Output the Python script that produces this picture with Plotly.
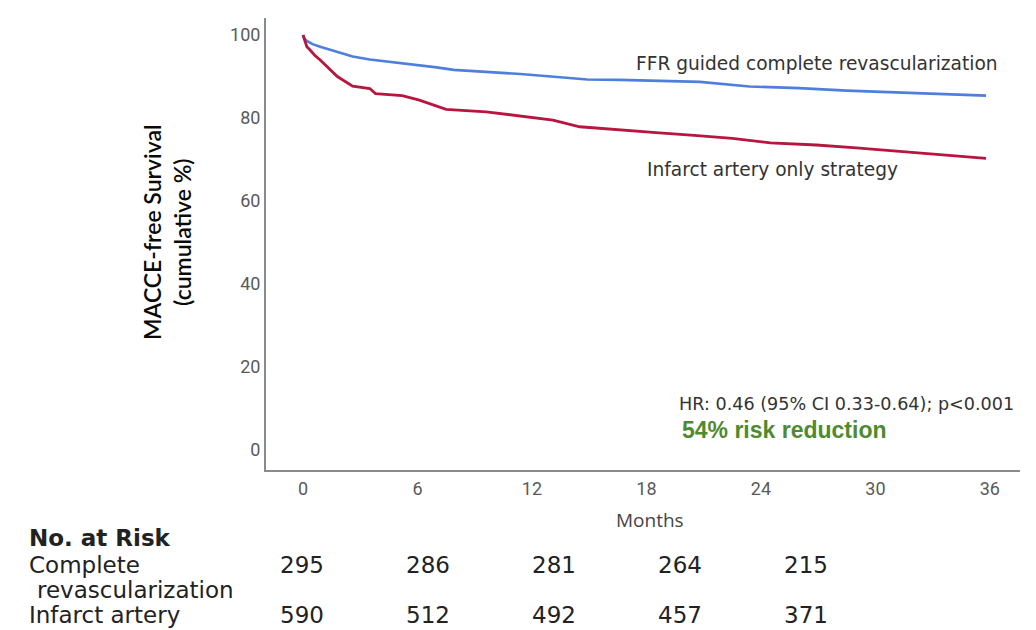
import plotly.graph_objects as go

# Kaplan-Meier curves (months, MACCE-free survival %)
ffr_months = [0, 0.1, 0.2, 0.5, 0.9, 1.4, 2.0, 2.6, 3.5, 4.5, 6.1, 7.0, 7.9, 9.5, 11.4, 13.0, 14.9, 16.6, 18.5, 20.8, 23.4, 26.0, 28.5, 31.0, 33.5, 35.8]
ffr_surv = [100, 99.0, 98.6, 97.8, 97.2, 96.5, 95.8, 94.8, 94.1, 93.6, 92.8, 92.2, 91.6, 91.2, 90.6, 90.0, 89.3, 89.2, 88.9, 88.7, 87.6, 87.2, 86.6, 86.2, 85.8, 85.4]

ioa_months = [0, 0.1, 0.2, 0.37, 0.6, 0.9, 1.4, 1.8, 2.6, 3.5, 3.8, 5.2, 6.1, 7.5, 9.6, 11.4, 13.1, 14.5, 16.6, 18.5, 20.5, 22.5, 24.5, 26.9, 29.0, 31.3, 33.5, 35.8]
ioa_surv = [100, 98.5, 97.2, 96.4, 95.2, 94.0, 91.7, 90.0, 87.7, 87.1, 85.9, 85.4, 84.3, 82.1, 81.5, 80.5, 79.5, 77.9, 77.1, 76.5, 75.8, 75.1, 74.0, 73.5, 72.8, 71.9, 71.2, 70.3]

x_ticks = [0, 6, 12, 18, 24, 30, 36]
y_ticks = [0, 20, 40, 60, 80, 100]

risk_groups = ["Complete", "revascularization", "Infarct artery"]
risk_complete = [295, 286, 281, 264, 215]
risk_infarct = [590, 512, 492, 457, 371]

W, H = 1036, 630
ML, MR, MT, MB = 266, 16, 18, 160


def px(xp):
    return (xp - ML) / (W - ML - MR)


def py(yp):
    return 1 - (yp - MT) / (H - MT - MB)


fig = go.Figure()
fig.add_trace(go.Scatter(x=ffr_months, y=ffr_surv, mode="lines",
                         line=dict(color="#4f7fdc", width=2.6), showlegend=False))
fig.add_trace(go.Scatter(x=ioa_months, y=ioa_surv, mode="lines",
                         line=dict(color="#b8153f", width=2.8), showlegend=False))

tickfont = dict(family="Roboto, sans-serif", size=18, color="#5a5a5a")

fig.update_xaxes(range=[-1.94, 37.58], tickvals=x_ticks, showline=True,
                 linecolor="#8a8a8a", linewidth=2, showgrid=False, zeroline=False,
                 ticks="", tickfont=tickfont, ticklabelstandoff=1)
fig.update_yaxes(range=[-4.8, 104.1], tickvals=y_ticks, showline=True,
                 linecolor="#8a8a8a", linewidth=2, showgrid=False, zeroline=False,
                 ticks="", tickfont=tickfont, ticklabelstandoff=0)

ann = []
# axis titles
ann.append(dict(text="MACCE-free Survival<br>(cumulative %)", xref="paper", yref="paper",
                x=px(167), y=py(232), textangle=-90, showarrow=False,
                xanchor="center", yanchor="middle",
                font=dict(family="Lato, sans-serif", size=23, color="#0a0a0a", weight=600)))
ann.append(dict(text="Months", xref="x", yref="paper", x=18.2, y=py(520),
                showarrow=False, xanchor="center", yanchor="middle",
                font=dict(family="Open Sans, sans-serif", size=19, color="#444444")))
# curve labels
lab = dict(family="DejaVu Sans, sans-serif", size=18.6, color="#333333")
ann.append(dict(text="FFR guided complete revascularization", x=17.35, y=93.25,
                xref="x", yref="y", showarrow=False, xanchor="left", yanchor="middle", font=lab))
ann.append(dict(text="Infarct artery only strategy", x=17.92, y=67.7,
                xref="x", yref="y", showarrow=False, xanchor="left", yanchor="middle", font=lab))
ann.append(dict(text="HR: 0.46 (95% CI 0.33-0.64); p<0.001", x=19.6, y=11.1,
                xref="x", yref="y", showarrow=False, xanchor="left", yanchor="middle",
                font=dict(family="DejaVu Sans, sans-serif", size=17.6, color="#333333")))
ann.append(dict(text="<b>54% risk reduction</b>", x=19.76, y=4.8,
                xref="x", yref="y", showarrow=False, xanchor="left", yanchor="middle",
                font=dict(family="Liberation Sans, Arial, sans-serif", size=23, color="#4e8a2e")))

# risk table
tfont = dict(family="DejaVu Sans, sans-serif", size=23, color="#222222")
ann.append(dict(text="<b>No. at Risk</b>", x=px(27), y=py(538), xref="paper", yref="paper",
                showarrow=False, xanchor="left", yanchor="middle", font=tfont))
ann.append(dict(text=risk_groups[0], x=px(27), y=py(565), xref="paper", yref="paper",
                showarrow=False, xanchor="left", yanchor="middle", font=tfont))
ann.append(dict(text=risk_groups[1], x=px(35), y=py(590), xref="paper", yref="paper",
                showarrow=False, xanchor="left", yanchor="middle", font=tfont))
ann.append(dict(text=risk_groups[2], x=px(27), y=py(615), xref="paper", yref="paper",
                showarrow=False, xanchor="left", yanchor="middle", font=tfont))
for i, (a, b) in enumerate(zip(risk_complete, risk_infarct)):
    cx = 301.5 + 126 * i
    ann.append(dict(text=str(a), x=px(cx), y=py(565), xref="paper", yref="paper",
                    showarrow=False, xanchor="center", yanchor="middle", font=tfont))
    ann.append(dict(text=str(b), x=px(cx), y=py(615), xref="paper", yref="paper",
                    showarrow=False, xanchor="center", yanchor="middle", font=tfont))

fig.update_layout(width=W, height=H, margin=dict(l=ML, r=MR, t=MT, b=MB),
                  plot_bgcolor="white", paper_bgcolor="white", annotations=ann)

fig.write_html("out.html")
